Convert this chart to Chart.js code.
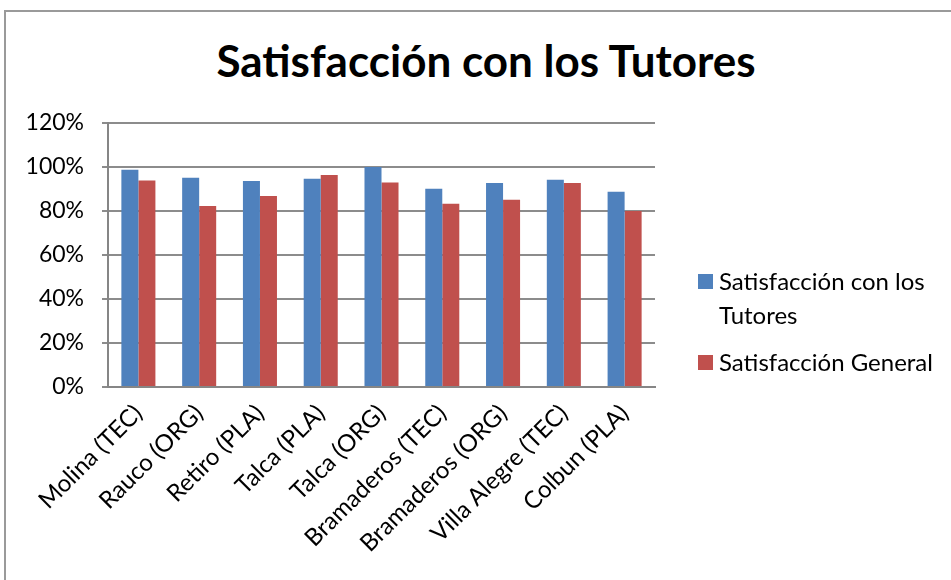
<!DOCTYPE html>
<html>
<head>
<meta charset="utf-8">
<script src="https://cdn.jsdelivr.net/npm/chart.js@4.4.0/dist/chart.umd.min.js"></script>
<style>
  html, body { margin: 0; padding: 0; background: #fff; }
  .page { position: relative; width: 951px; height: 580px; overflow: hidden; font-family: Lato, "Open Sans", sans-serif; }
  .frame { position: absolute; left: 4px; top: 10px; width: 960px; height: 600px; border: 2px solid #9a9a9a; }
  .title { position: absolute; left: 0; top: 34px; width: 972px; text-align: center; font-size: 44px; font-weight: bold; color: #000; }
  #chartBox { position: absolute; left: 0; top: 0; width: 951px; height: 580px; }
  .legend { position: absolute; left: 698px; top: 264px; font-size: 24px; color: #000; line-height: 34px; }
  .legend .item { display: flex; align-items: flex-start; margin-bottom: 13px; }
  .legend .box { width: 15px; height: 15px; margin: 10px 6px 0 0; flex: none; }
</style>
</head>
<body>
<div class="page">
  <div class="frame"></div>
  <div class="title">Satisfacción con los Tutores</div>
  <div id="chartBox"><canvas id="c" width="951" height="580"></canvas></div>
  <div class="legend" id="legend"></div>
</div>
<script>
const categories = ["Molina (TEC)", "Rauco (ORG)", "Retiro (PLA)", "Talca (PLA)", "Talca (ORG)",
                    "Bramaderos (TEC)", "Bramaderos (ORG)", "Villa Alegre (TEC)", "Colbun (PLA)"];
const seriesNames = ["Satisfacción con los Tutores", "Satisfacción General"];
const tutores = [98.8, 95.1, 93.6, 94.7, 100, 90.1, 92.7, 94.2, 88.8];
const general = [93.9, 82.3, 86.8, 96.4, 92.9, 83.3, 85.1, 92.7, 80.0];
const colors  = ["#4F81BD", "#C0504D"];

// legend text breaks the same way as the original
const legendWrap = [["Satisfacción con los", "Tutores"], ["Satisfacción General"]];

new Chart(document.getElementById("c"), {
    type: "bar",
    data: {
        labels: categories,
        datasets: [
            { label: seriesNames[0], data: tutores, backgroundColor: colors[0] },
            { label: seriesNames[1], data: general, backgroundColor: colors[1] }
        ]
    },
    options: {
        responsive: false,
        animation: false,
        layout: { padding: { left: 0, right: 296, top: 123, bottom: 0 } },
        datasets: { bar: { categoryPercentage: 0.56, barPercentage: 1 } },
        plugins: { legend: { display: false }, tooltip: { enabled: false } },
        scales: {
            x: {
                grid: { display: false },
                border: { color: "#868686", width: 2 },
                ticks: { color: "#000", font: { family: "Lato", size: 24 }, minRotation: 45, maxRotation: 45, padding: 4 },
                afterFit: s => { s.height = 193; }
            },
            y: {
                min: 0, max: 120,
                grid: { color: "#8c8c8c", lineWidth: 2, drawTicks: true, tickLength: 6 },
                border: { color: "#868686", width: 2 },
                ticks: { stepSize: 20, color: "#000", font: { family: "Lato", size: 23 }, padding: 18, callback: v => v + "%" },
                afterFit: s => { s.width = 108; }
            }
        }
    }
});

const legend = document.getElementById("legend");
seriesNames.forEach((name, i) => {
    const item = document.createElement("div");
    item.className = "item";
    item.innerHTML = `<span class="box" style="background:${colors[i]}"></span><span>${legendWrap[i].join("<br>")}</span>`;
    legend.appendChild(item);
});
</script>
</body>
</html>
